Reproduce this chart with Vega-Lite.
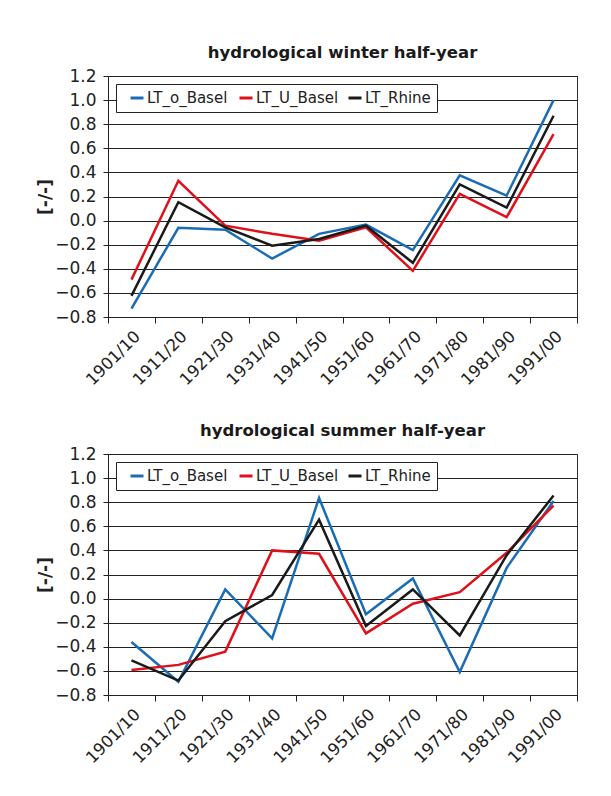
{
  "$schema": "https://vega.github.io/schema/vega-lite/v6.json",
  "background": "white",
  "padding": {"left": 35, "top": 44, "right": 5, "bottom": 5},
  "bounds": "flush",
  "spacing": 137,
  "config": {
    "font": "DejaVu Sans",
    "view": {"stroke": "#333", "strokeWidth": 1},
    "axis": {"labelFont": "DejaVu Sans", "titleFont": "DejaVu Sans", "labelColor": "#222", "titleColor": "#222"}
  },
  "datasets": {
    "winter": [
      {"period": "1901/10", "series": "LT_o_Basel", "value": -0.73},
      {"period": "1911/20", "series": "LT_o_Basel", "value": -0.06},
      {"period": "1921/30", "series": "LT_o_Basel", "value": -0.075},
      {"period": "1931/40", "series": "LT_o_Basel", "value": -0.315},
      {"period": "1941/50", "series": "LT_o_Basel", "value": -0.11},
      {"period": "1951/60", "series": "LT_o_Basel", "value": -0.033},
      {"period": "1961/70", "series": "LT_o_Basel", "value": -0.245},
      {"period": "1971/80", "series": "LT_o_Basel", "value": 0.375},
      {"period": "1981/90", "series": "LT_o_Basel", "value": 0.208},
      {"period": "1991/00", "series": "LT_o_Basel", "value": 1.0},
      {"period": "1901/10", "series": "LT_U_Basel", "value": -0.49},
      {"period": "1911/20", "series": "LT_U_Basel", "value": 0.33},
      {"period": "1921/30", "series": "LT_U_Basel", "value": -0.042},
      {"period": "1931/40", "series": "LT_U_Basel", "value": -0.11},
      {"period": "1941/50", "series": "LT_U_Basel", "value": -0.167},
      {"period": "1951/60", "series": "LT_U_Basel", "value": -0.056},
      {"period": "1961/70", "series": "LT_U_Basel", "value": -0.417},
      {"period": "1971/80", "series": "LT_U_Basel", "value": 0.222},
      {"period": "1981/90", "series": "LT_U_Basel", "value": 0.028},
      {"period": "1991/00", "series": "LT_U_Basel", "value": 0.718},
      {"period": "1901/10", "series": "LT_Rhine", "value": -0.625},
      {"period": "1911/20", "series": "LT_Rhine", "value": 0.153},
      {"period": "1921/30", "series": "LT_Rhine", "value": -0.056},
      {"period": "1931/40", "series": "LT_Rhine", "value": -0.208},
      {"period": "1941/50", "series": "LT_Rhine", "value": -0.153},
      {"period": "1951/60", "series": "LT_Rhine", "value": -0.042},
      {"period": "1961/70", "series": "LT_Rhine", "value": -0.35},
      {"period": "1971/80", "series": "LT_Rhine", "value": 0.3},
      {"period": "1981/90", "series": "LT_Rhine", "value": 0.108},
      {"period": "1991/00", "series": "LT_Rhine", "value": 0.87}
    ],
    "summer": [
      {"period": "1901/10", "series": "LT_o_Basel", "value": -0.36},
      {"period": "1911/20", "series": "LT_o_Basel", "value": -0.69},
      {"period": "1921/30", "series": "LT_o_Basel", "value": 0.076},
      {"period": "1931/40", "series": "LT_o_Basel", "value": -0.33},
      {"period": "1941/50", "series": "LT_o_Basel", "value": 0.835},
      {"period": "1951/60", "series": "LT_o_Basel", "value": -0.13},
      {"period": "1961/70", "series": "LT_o_Basel", "value": 0.167},
      {"period": "1971/80", "series": "LT_o_Basel", "value": -0.61},
      {"period": "1981/90", "series": "LT_o_Basel", "value": 0.255},
      {"period": "1991/00", "series": "LT_o_Basel", "value": 0.81},
      {"period": "1901/10", "series": "LT_U_Basel", "value": -0.593},
      {"period": "1911/20", "series": "LT_U_Basel", "value": -0.55},
      {"period": "1921/30", "series": "LT_U_Basel", "value": -0.44},
      {"period": "1931/40", "series": "LT_U_Basel", "value": 0.4},
      {"period": "1941/50", "series": "LT_U_Basel", "value": 0.372},
      {"period": "1951/60", "series": "LT_U_Basel", "value": -0.289},
      {"period": "1961/70", "series": "LT_U_Basel", "value": -0.043},
      {"period": "1971/80", "series": "LT_U_Basel", "value": 0.054},
      {"period": "1981/90", "series": "LT_U_Basel", "value": 0.38},
      {"period": "1991/00", "series": "LT_U_Basel", "value": 0.772},
      {"period": "1901/10", "series": "LT_Rhine", "value": -0.513},
      {"period": "1911/20", "series": "LT_Rhine", "value": -0.68},
      {"period": "1921/30", "series": "LT_Rhine", "value": -0.187},
      {"period": "1931/40", "series": "LT_Rhine", "value": 0.03},
      {"period": "1941/50", "series": "LT_Rhine", "value": 0.655},
      {"period": "1951/60", "series": "LT_Rhine", "value": -0.228},
      {"period": "1961/70", "series": "LT_Rhine", "value": 0.076},
      {"period": "1971/80", "series": "LT_Rhine", "value": -0.306},
      {"period": "1981/90", "series": "LT_Rhine", "value": 0.36},
      {"period": "1991/00", "series": "LT_Rhine", "value": 0.855}
    ]
  },
  "resolve": {"scale": {"color": "independent"}, "legend": {"color": "independent"}},
  "vconcat": [
    {
      "width": 469,
      "height": 241,
      "data": {"name": "winter"},
      "title": {"text": "hydrological winter half-year", "font": "DejaVu Sans", "fontSize": 16.5, "fontWeight": "bold", "color": "#1a1a1a", "frame": "group", "anchor": "middle", "baseline": "alphabetic", "offset": -7},
      "mark": {"type": "line", "strokeWidth": 2.5},
      "encoding": {
        "x": {
          "field": "period", "type": "ordinal", "sort": null, "bandPosition": 0.5,
          "scale": {"type": "band", "paddingInner": 0, "paddingOuter": 0},
          "axis": {"title": null, "labelAngle": -45, "labelFontSize": 16.5, "labelPadding": 5, "tickBand": "extent", "grid": false, "domainColor": "#222", "tickColor": "#222", "tickSize": 6, "labelColor": "#222"}
        },
        "y": {
          "field": "value", "type": "quantitative",
          "scale": {"domain": [-0.8, 1.2], "nice": false, "zero": false},
          "axis": {"values": [-0.8, -0.6, -0.4, -0.2, 0, 0.2, 0.4, 0.6, 0.8, 1.0, 1.2], "format": ".1f", "labelFontSize": 17, "labelPadding": 7, "tickSize": 5, "tickColor": "#222", "domainColor": "#222", "grid": true, "gridColor": "#222", "gridOpacity": 1, "title": "[-/-]", "titleFontSize": 17, "titleFontWeight": "bold", "titleX": -63, "titleY": 120.5, "titleAngle": 270, "titleAlign": "center", "titleBaseline": "middle"}
        },
        "color": {
          "field": "series", "type": "nominal",
          "scale": {"domain": ["LT_o_Basel", "LT_U_Basel", "LT_Rhine"], "range": ["#1a6db5", "#e0101b", "#1a1a1a"]},
          "legend": {"orient": "none", "legendX": 8, "legendY": 8, "direction": "horizontal", "title": null, "fillColor": "white", "strokeColor": "#222", "padding": 6, "gridAlign": "all", "symbolType": "stroke", "symbolStrokeWidth": 3, "symbolSize": 169, "symbolOffset": 7, "labelFont": "DejaVu Sans", "labelFontSize": 15, "labelColor": "#222", "labelOffset": 2, "columnPadding": 1}
        }
      }
    },
    {
      "width": 469,
      "height": 241,
      "data": {"name": "summer"},
      "title": {"text": "hydrological summer half-year", "font": "DejaVu Sans", "fontSize": 16.5, "fontWeight": "bold", "color": "#1a1a1a", "frame": "group", "anchor": "middle", "baseline": "alphabetic", "offset": -7},
      "mark": {"type": "line", "strokeWidth": 2.5},
      "encoding": {
        "x": {
          "field": "period", "type": "ordinal", "sort": null, "bandPosition": 0.5,
          "scale": {"type": "band", "paddingInner": 0, "paddingOuter": 0},
          "axis": {"title": null, "labelAngle": -45, "labelFontSize": 16.5, "labelPadding": 5, "tickBand": "extent", "grid": false, "domainColor": "#222", "tickColor": "#222", "tickSize": 6, "labelColor": "#222"}
        },
        "y": {
          "field": "value", "type": "quantitative",
          "scale": {"domain": [-0.8, 1.2], "nice": false, "zero": false},
          "axis": {"values": [-0.8, -0.6, -0.4, -0.2, 0, 0.2, 0.4, 0.6, 0.8, 1.0, 1.2], "format": ".1f", "labelFontSize": 17, "labelPadding": 7, "tickSize": 5, "tickColor": "#222", "domainColor": "#222", "grid": true, "gridColor": "#222", "gridOpacity": 1, "title": "[-/-]", "titleFontSize": 17, "titleFontWeight": "bold", "titleX": -63, "titleY": 120.5, "titleAngle": 270, "titleAlign": "center", "titleBaseline": "middle"}
        },
        "color": {
          "field": "series", "type": "nominal",
          "scale": {"domain": ["LT_o_Basel", "LT_U_Basel", "LT_Rhine"], "range": ["#1a6db5", "#e0101b", "#1a1a1a"]},
          "legend": {"orient": "none", "legendX": 8, "legendY": 8, "direction": "horizontal", "title": null, "fillColor": "white", "strokeColor": "#222", "padding": 6, "gridAlign": "all", "symbolType": "stroke", "symbolStrokeWidth": 3, "symbolSize": 169, "symbolOffset": 7, "labelFont": "DejaVu Sans", "labelFontSize": 15, "labelColor": "#222", "labelOffset": 2, "columnPadding": 1}
        }
      }
    }
  ]
}
